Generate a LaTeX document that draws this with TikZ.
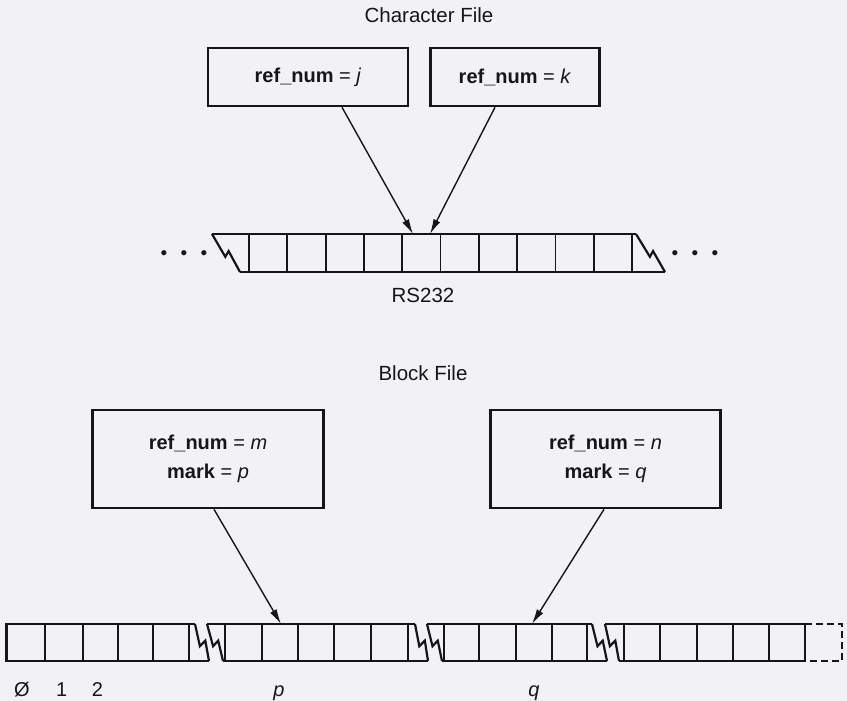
\documentclass[tikz,border=0pt]{standalone}
\usepackage{fontspec}
\setmainfont{Liberation Sans}
\usepackage{tikz}
\usetikzlibrary{arrows.meta,calc}
\definecolor{paper}{RGB}{242,242,246}
\definecolor{ink}{RGB}{22,22,26}
% slanted break of a strip, with its small notch
\newcommand{\breakedge}[2]{\draw[strip] (#1) -- ($(#1)!0.6!(#2)+(-3.5,0)$) -- ($(#1)!0.45!(#2)+(4,0)$) -- (#2);}

\begin{document}
\begin{tikzpicture}[x=1pt,y=-1pt]
\tikzstyle{refbox}=[draw=ink, line width=2.6pt, inner sep=0pt, align=center, text=ink, font=\fontsize{20}{29}\selectfont]
\tikzstyle{strip}=[draw=ink, line width=2.2pt]
\tikzstyle{cell}=[draw=ink, line width=1.8pt]
\tikzstyle{pointer}=[draw=ink, line width=1.4pt, -{Latex[length=15pt,width=7.5pt]}]
\tikzstyle{title}=[text=ink, font=\fontsize{20.5}{24}\selectfont]
\tikzstyle{index}=[text=ink, anchor=base, font=\fontsize{20}{24}\selectfont]
\tikzstyle{dots}=[text=ink, font=\fontsize{19}{19}\selectfont]
 \fill[paper] (0,0) rectangle (847,701);
 \useasboundingbox (0,0) rectangle (847,701);
 % character file
 \node[title] (chartitle) at (429,15) {Character File};
 \node[refbox, minimum width=200pt, minimum height=58pt] (refj) at (308,77) {\textbf{ref\_num} = \textit{j}};
 \node[refbox, minimum width=169pt, minimum height=58pt] (refk) at (515,77) {\textbf{ref\_num} = \textit{k}};
 \coordinate (tipj) at (413,234);
 \coordinate (tipk) at (430,234);
 \draw[strip] (212,234) -- (636,234);
 \draw[strip] (240,272) -- (665,272);
 \breakedge{212,234}{240,272}
 \breakedge{636,234}{665,272}
 \foreach \i in {0,...,10}
   \draw[cell] (249+38.3*\i,234) -- (249+38.3*\i,272);
 \node[dots] (leftdots) at (184,255) {\textbullet\hspace{13.4pt}\textbullet\hspace{13.4pt}\textbullet};
 \node[dots] (rightdots) at (695,255) {\textbullet\hspace{13.4pt}\textbullet\hspace{13.4pt}\textbullet};
 \node[title] (rs) at (423,295) {RS232};
 \draw[pointer] ([xshift=34pt]refj.south) -- (tipj);
 \draw[pointer] ([xshift=-20pt]refk.south) -- (tipk);
 % block file
 \node[title] (blocktitle) at (423,373) {Block File};
 \node[refbox, minimum width=231pt, minimum height=98pt] (refm) at (208,459) {\textbf{ref\_num} = \textit{m}\\\textbf{mark} = \textit{p}};
 \node[refbox, minimum width=230pt, minimum height=98pt] (refn) at (605.5,459) {\textbf{ref\_num} = \textit{n}\\\textbf{mark} = \textit{q}};
 \coordinate (tipm) at (281,624);
 \coordinate (tipn) at (532,624);
 % first piece
 \draw[strip] (195,624) -- (6.5,624) -- (6.5,661) -- (209,661);
 \breakedge{195,624}{209,661}
 \foreach \x in {45,82.7,118.3,153.3,189.3}
   \draw[cell] (\x,624) -- (\x,661);
 % piece with p
 \draw[strip] (207,624) -- (415,624);
 \draw[strip] (223,661) -- (428,661);
 \breakedge{207,624}{223,661}
 \breakedge{415,624}{428,661}
 \foreach \x in {225,261.7,298.3,334.3,370.7,408.3}
   \draw[cell] (\x,624) -- (\x,661);
 % piece with q
 \draw[strip] (427,624) -- (592,624);
 \draw[strip] (442,661) -- (607,661);
 \breakedge{427,624}{442,661}
 \breakedge{592,624}{607,661}
 \foreach \x in {444,479,516,552,587}
   \draw[cell] (\x,624) -- (\x,661);
 % last piece
 \draw[strip] (605,624) -- (805,624);
 \draw[strip] (619,661) -- (805,661);
 \breakedge{605,624}{619,661}
 \foreach \x in {624,660,697,733,769,805}
   \draw[cell] (\x,624) -- (\x,661);
 \draw[strip, dash pattern=on 7pt off 4pt] (805,624) -- (842,624) -- (842,661) -- (805,661);
 \node[index] (zero) at (22,696) {Ø};
 \node[index] (one) at (61.7,696) {1};
 \node[index] (two) at (97.5,696) {2};
 \node[index] (posp) at (279,696) {\textit{p}};
 \node[index] (posq) at (534,696) {\textit{q}};
 \draw[pointer] ([xshift=6pt]refm.south) -- (tipm);
 \draw[pointer] ([xshift=-1.5pt]refn.south) -- (tipn);
\end{tikzpicture}
\end{document}
